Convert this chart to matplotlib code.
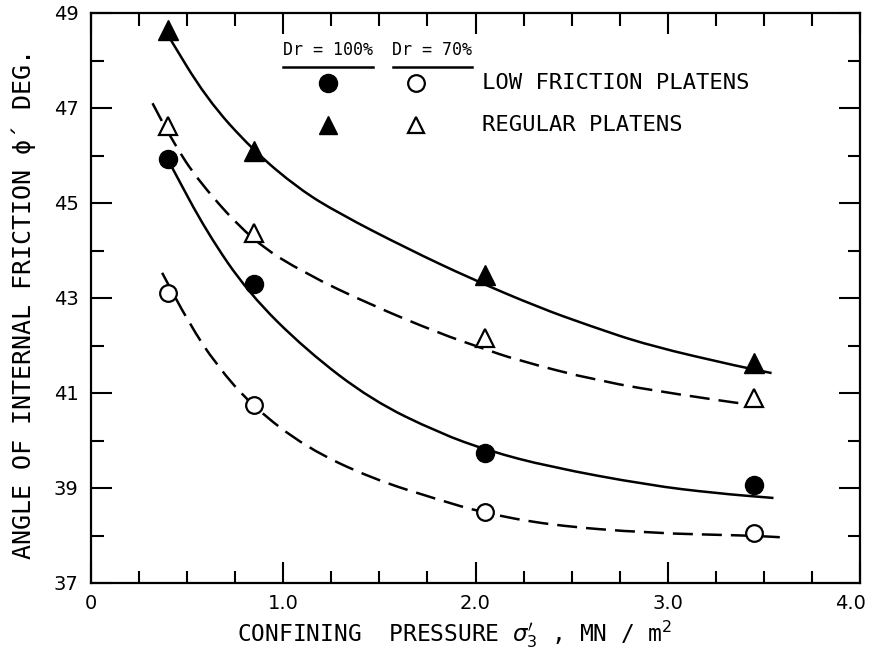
import matplotlib
matplotlib.use('Agg')
import matplotlib.pyplot as plt
from matplotlib.ticker import MultipleLocator
from matplotlib.path import Path
from matplotlib.patches import PathPatch
from matplotlib.transforms import ScaledTranslation

# ---- measured data points ----
pressure = [0.40, 0.85, 2.05, 3.45]
low_100 = [45.93, 43.30, 39.74, 39.06]   # filled circles
low_70 = [43.10, 40.75, 38.50, 38.05]    # open circles
reg_100 = [48.64, 46.10, 43.48, 41.63]   # filled triangles
reg_70 = [46.62, 44.37, 42.16, 40.90]    # open triangles

# ---- hand-drawn fitted curves ----
curve_reg100_x = [0.39, 0.60, 0.84, 1.08, 1.29, 1.64, 1.98, 2.33, 2.59, 2.90, 3.38, 3.54]
curve_reg100_y = [48.60, 47.20, 46.12, 45.30, 44.78, 44.05, 43.40, 42.80, 42.42, 42.00, 41.55, 41.42]

curve_reg70_x = [0.32, 0.42, 0.56, 0.84, 1.12, 1.46, 1.81, 2.03, 2.21, 2.64, 3.07, 3.45]
curve_reg70_y = [47.10, 46.33, 45.45, 44.20, 43.50, 42.85, 42.26, 41.95, 41.70, 41.25, 40.96, 40.74]

curve_low100_x = [0.42, 0.60, 0.82, 1.12, 1.46, 1.81, 2.07, 2.38, 2.90, 3.25, 3.55]
curve_low100_y = [45.76, 44.40, 43.10, 41.90, 40.85, 40.16, 39.78, 39.45, 39.06, 38.89, 38.79]

curve_low70_x = [0.37, 0.51, 0.65, 0.84, 1.12, 1.46, 1.81, 2.03, 2.38, 2.90, 3.42, 3.60]
curve_low70_y = [43.53, 42.47, 41.60, 40.72, 39.85, 39.20, 38.75, 38.49, 38.22, 38.05, 38.00, 37.96]

x_ticks = [0, 1, 2, 3, 4]
x_tick_labels = ['0', '1.0', '2.0', '3.0', '4.0']
y_ticks = [37, 39, 41, 43, 45, 47, 49]

legend_cols = ['Dr = 100%', 'Dr = 70%']
legend_rows = ['LOW FRICTION PLATENS', 'REGULAR PLATENS']
x_label = r"CONFINING  PRESSURE $\sigma_3^{\prime}$ , MN / m$^2$"
y_label = "ANGLE OF INTERNAL FRICTION ϕ´ DEG."

plt.rcParams['font.family'] = ['DejaVu Sans']
MONO = ['DejaVu Sans Mono', 'DejaVu Sans']

fig = plt.figure(figsize=(8.71, 6.52), dpi=100)
ax = fig.add_axes([91 / 871, 1 - 583 / 652, 769 / 871, 570 / 652])


def smooth_curve(xs, ys, **kw):
    """Draw a smooth (quadratic Bezier) curve guided by the read points."""
    pts = list(zip(xs, ys))
    verts = [pts[0]]
    codes = [Path.MOVETO]
    mid = ((pts[0][0] + pts[1][0]) / 2, (pts[0][1] + pts[1][1]) / 2)
    verts.append(mid)
    codes.append(Path.LINETO)
    for i in range(1, len(pts) - 1):
        nxt = ((pts[i][0] + pts[i + 1][0]) / 2, (pts[i][1] + pts[i + 1][1]) / 2)
        verts += [pts[i], nxt]
        codes += [Path.CURVE3, Path.CURVE3]
    verts.append(pts[-1])
    codes.append(Path.LINETO)
    patch = PathPatch(Path(verts, codes), fill=False, edgecolor='black',
                      capstyle='butt', **kw)
    ax.add_patch(patch)


lw = 1.8
dash = (0, (8, 3.6))
smooth_curve(curve_reg100_x, curve_reg100_y, lw=lw)
smooth_curve(curve_low100_x, curve_low100_y, lw=lw)
smooth_curve(curve_reg70_x, curve_reg70_y, lw=lw, linestyle=dash)
smooth_curve(curve_low70_x, curve_low70_y, lw=lw, linestyle=dash)

ax.plot(pressure, reg_100, ls='none', marker='^', ms=14, color='black', zorder=3)
ax.plot(pressure, reg_70, ls='none', marker='^', ms=13, mfc='white', mec='black', mew=1.6, zorder=3)
ax.plot(pressure, low_100, ls='none', marker='o', ms=13, color='black', zorder=3)
ax.plot(pressure, low_70, ls='none', marker='o', ms=12, mfc='white', mec='black', mew=1.6, zorder=3)

# ---- custom legend ----
tr = ax.transAxes
col_x = [0.308, 0.423]
row_y = [0.877, 0.804]
ax.text(col_x[0], 0.935, legend_cols[0], transform=tr, ha='center', va='center',
        fontsize=12, family=MONO)
ax.text(0.443, 0.935, legend_cols[1], transform=tr, ha='center', va='center',
        fontsize=12, family=MONO)
ax.plot([(283 - 91) / 769, (373 - 91) / 769], [0.905, 0.905], transform=tr, color='black', lw=1.8)
ax.plot([(393 - 91) / 769, (472 - 91) / 769], [0.905, 0.905], transform=tr, color='black', lw=1.8)
ax.plot([col_x[0]], [row_y[0]], transform=tr, marker='o', ms=13, color='black', ls='none')
ax.plot([col_x[1]], [row_y[0]], transform=tr, marker='o', ms=12, mfc='white', mec='black', mew=1.6, ls='none')
ax.plot([col_x[0]], [row_y[1]], transform=tr, marker='^', ms=13, color='black', ls='none')
ax.plot([col_x[1]], [row_y[1]], transform=tr, marker='^', ms=12, mfc='white', mec='black', mew=1.6, ls='none')
ax.text(0.508, row_y[0], legend_rows[0], transform=tr, ha='left', va='center',
        fontsize=16, family=MONO)
ax.text(0.508, row_y[1], legend_rows[1], transform=tr, ha='left', va='center',
        fontsize=16, family=MONO)

# ---- axes ----
ax.set_xlim(0, 4)
ax.set_ylim(37, 49)
ax.set_xticks(x_ticks)
ax.set_xticklabels(x_tick_labels)
ax.set_yticks(y_ticks)
ax.xaxis.set_minor_locator(MultipleLocator(0.25))
ax.yaxis.set_minor_locator(MultipleLocator(1))
ax.tick_params(which='both', direction='in', top=True, right=True, width=1.5, labelsize=14)
ax.tick_params(which='major', length=15)
ax.tick_params(which='minor', length=9)
ax.tick_params(axis='x', which='both', pad=8)
ax.tick_params(axis='y', which='both', pad=9)
for s in ax.spines.values():
    s.set_linewidth(1.6)

# nudge the last x tick label inward, as in the reference
lbl = ax.get_xticklabels()[-1]
lbl.set_transform(lbl.get_transform() + ScaledTranslation(-10 / 100, 0, fig.dpi_scale_trans))

ax.set_xlabel(x_label, fontsize=16.5, family=MONO)
ax.xaxis.label.set_va('baseline')
ax.xaxis.set_label_coords((455 - 91) / 769, (583 - 641) / 570)
ax.set_ylabel(y_label, fontsize=18, family=MONO)
ax.yaxis.label.set_va('center')
ax.yaxis.set_label_coords((24 - 91) / 769, (583 - 304) / 570)

fig.savefig('out.png', dpi=100)
